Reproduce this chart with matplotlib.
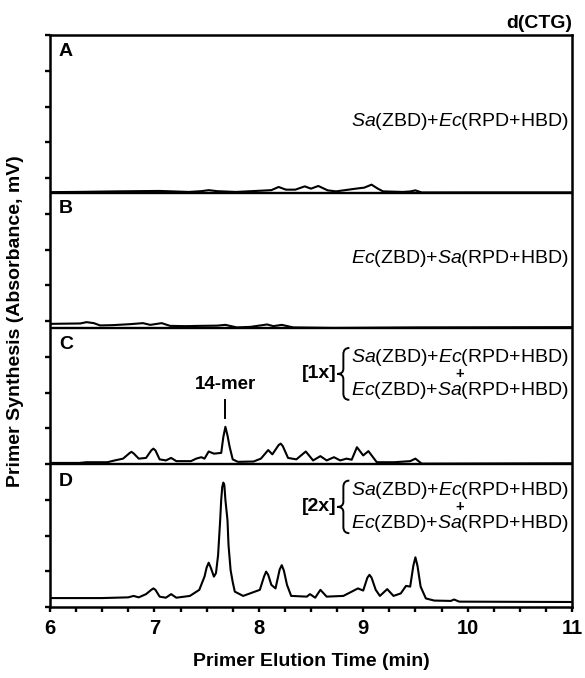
import matplotlib
matplotlib.use('Agg')
import matplotlib.pyplot as plt
from matplotlib.path import Path
from matplotlib.patches import PathPatch
from matplotlib.ticker import MultipleLocator, NullFormatter

plt.rcParams['font.family'] = ['Liberation Sans', 'DejaVu Sans']
plt.rcParams['mathtext.fontset'] = 'custom'
plt.rcParams['mathtext.rm'] = 'Liberation Sans'
plt.rcParams['mathtext.it'] = 'Liberation Sans:italic'

# ---------------- data ----------------
# elution time (min) and signal (in y-tick units, above each panel's baseline)
time_A = [6.0, 6.3, 6.63, 7.05, 7.33, 7.45, 7.52, 7.6, 7.78, 8.03, 8.12, 8.19, 8.26,
          8.35, 8.44, 8.5, 8.57, 8.66, 8.74, 8.93, 9.01, 9.08, 9.14, 9.19, 9.38,
          9.45, 9.5, 9.56, 10.0, 11.0]
sig_A = [0.014, 0.022, 0.036, 0.048, 0.020, 0.042, 0.070, 0.042, 0.020, 0.056, 0.070,
         0.159, 0.084, 0.084, 0.176, 0.112, 0.187, 0.064, 0.036, 0.112, 0.140, 0.224,
         0.112, 0.036, 0.020, 0.034, 0.064, 0.006, 0.008, 0.008]

time_B = [6.0, 6.29, 6.35, 6.42, 6.48, 6.6, 6.77, 6.89, 6.96, 7.07, 7.15, 7.3, 7.44,
          7.6, 7.68, 7.79, 7.92, 8.08, 8.14, 8.22, 8.33, 8.5, 8.72, 9.5, 11.0]
sig_B = [0.120, 0.131, 0.168, 0.140, 0.076, 0.084, 0.112, 0.140, 0.092, 0.140, 0.064,
         0.056, 0.064, 0.070, 0.092, 0.020, 0.036, 0.103, 0.056, 0.092, 0.020, 0.014,
         0.006, 0.020, 0.028]

time_C = [6.0, 6.28, 6.35, 6.55, 6.62, 6.70, 6.76, 6.78, 6.80, 6.85, 6.92, 6.97, 6.99,
          7.01, 7.05, 7.11, 7.16, 7.21, 7.35, 7.40, 7.45, 7.48, 7.52, 7.57, 7.64, 7.66,
          7.68, 7.70, 7.72, 7.75, 7.80, 7.95, 8.02, 8.09, 8.13, 8.19, 8.21, 8.23, 8.28,
          8.36, 8.45, 8.52, 8.59, 8.65, 8.72, 8.78, 8.84, 8.89, 8.94, 9.00, 9.05, 9.13,
          9.30, 9.45, 9.50, 9.56, 11.0]
sig_C = [0.03, 0.03, 0.05, 0.05, 0.10, 0.15, 0.30, 0.34, 0.30, 0.15, 0.17, 0.38, 0.43,
         0.38, 0.13, 0.10, 0.17, 0.08, 0.08, 0.15, 0.19, 0.15, 0.35, 0.29, 0.31, 0.75,
         1.04, 0.80, 0.49, 0.13, 0.06, 0.07, 0.15, 0.39, 0.27, 0.53, 0.57, 0.50, 0.17,
         0.13, 0.35, 0.10, 0.22, 0.10, 0.19, 0.10, 0.15, 0.12, 0.47, 0.24, 0.36, 0.05,
         0.05, 0.08, 0.15, 0.01, 0.02]

time_D = [6.0, 6.5, 6.75, 6.80, 6.85, 6.92, 6.97, 6.99, 7.01, 7.05, 7.11, 7.16, 7.21,
          7.34, 7.43, 7.48, 7.50, 7.52, 7.54, 7.57, 7.59, 7.61, 7.63, 7.64, 7.65, 7.66,
          7.67, 7.68, 7.70, 7.71, 7.73, 7.75, 7.77, 7.85, 8.01, 8.05, 8.07, 8.09, 8.12,
          8.16, 8.20, 8.22, 8.24, 8.27, 8.31, 8.46, 8.49, 8.54, 8.59, 8.65, 8.81, 8.95,
          9.00, 9.04, 9.06, 9.08, 9.12, 9.16, 9.23, 9.29, 9.36, 9.41, 9.45, 9.48, 9.50,
          9.52, 9.55, 9.60, 9.68, 9.84, 9.87, 9.92, 11.0]
sig_D = [0.25, 0.25, 0.27, 0.31, 0.27, 0.36, 0.48, 0.52, 0.48, 0.29, 0.26, 0.36, 0.26,
         0.31, 0.48, 0.85, 1.10, 1.24, 1.10, 0.85, 0.95, 1.45, 2.43, 3.00, 3.36, 3.48,
         3.41, 3.00, 2.43, 1.73, 1.03, 0.70, 0.43, 0.31, 0.48, 0.85, 0.99, 0.90, 0.62,
         0.52, 1.05, 1.17, 1.02, 0.62, 0.31, 0.29, 0.36, 0.26, 0.48, 0.29, 0.31, 0.52,
         0.46, 0.82, 0.90, 0.82, 0.48, 0.31, 0.50, 0.31, 0.38, 0.59, 0.57, 1.15, 1.39,
         1.15, 0.57, 0.24, 0.18, 0.17, 0.21, 0.15, 0.14]

panel_letters = ['A', 'B', 'C', 'D']
label_A = r'$\mathit{Sa}$(ZBD)+$\mathit{Ec}$(RPD+HBD)'
label_B = r'$\mathit{Ec}$(ZBD)+$\mathit{Sa}$(RPD+HBD)'
mix_prefix = ['[1x]', '[2x]']
x_ticks = [6, 7, 8, 9, 10, 11]
peak_label = '14-mer'
peak_time = 7.68

# ---------------- layout ----------------
W, H, DPI = 585, 678, 100
fig = plt.figure(figsize=(W / DPI, H / DPI), dpi=DPI)
L, R, T, B = 50, 572, 35, 607
ax = fig.add_axes([L / W, 1 - B / H, (R - L) / W, (B - T) / H])
ax.set_xlim(6, 11)
ax.set_ylim(0, 16)

base = {'A': 11.59, 'B': 7.80, 'C': 4.0, 'D': 0.0}
traces = {'A': (time_A, sig_A), 'B': (time_B, sig_B),
          'C': (time_C, sig_C), 'D': (time_D, sig_D)}

for k in ['A', 'B', 'C']:
    ax.axhline(base[k], color='black', lw=1.7, zorder=2)
for k, (t, s) in traces.items():
    ax.plot(t, [v + base[k] for v in s], color='black', lw=1.5,
            solid_joinstyle='round', zorder=3)

for sp in ax.spines.values():
    sp.set_linewidth(1.8)

ax.set_xticks(x_ticks)
ax.set_xticklabels([str(v) for v in x_ticks])
ax.xaxis.set_minor_locator(MultipleLocator(0.25))
ax.yaxis.set_major_locator(MultipleLocator(1))
ax.yaxis.set_major_formatter(NullFormatter())
ax.tick_params(axis='both', which='both', direction='out', width=1.7, length=3.5)
ax.tick_params(axis='x', which='major', pad=5, labelsize=14.5)
for lab in ax.get_xticklabels():
    lab.set_fontweight('bold')

ax.set_xlabel('Primer Elution Time (min)', fontsize=14, fontweight='bold')
ax.xaxis.set_label_coords(0.5, -0.08)
ax.set_ylabel('Primer Synthesis (Absorbance, mV)', fontsize=14, fontweight='bold')
ax.yaxis.set_label_coords(-0.05, 0.5)

fs = 14
letter_y = {'A': 15.55, 'B': 11.15, 'C': 7.33, 'D': 3.51}
for k in panel_letters:
    ax.text(6.085, letter_y[k], k, fontsize=fs, fontweight='bold', ha='left', va='center')

fig.text(R / W, 1 - 24 / H, 'd(CTG)', fontsize=fs, fontweight='bold', ha='right', va='center')

xr = 10.97
ax.text(xr, 13.57, label_A, fontsize=fs, ha='right', va='center')
ax.text(xr, 9.76, label_B, fontsize=fs, ha='right', va='center')

# peak marker
ax.text(peak_time, 6.21, peak_label, fontsize=fs - 0.5, fontweight='bold', ha='center', va='center')
ax.plot([peak_time, peak_time], [5.29, 5.79], color='black', lw=1.4)

fig.canvas.draw()
rend = fig.canvas.get_renderer()
inv = ax.transData.inverted()

def brace(xl, xr_, y0, y1):
    ym = 0.5 * (y0 + y1)
    xm = 0.5 * (xl + xr_)
    h = y1 - y0
    verts = [(xr_, y1), (xm, y1), (xm, y1 - 0.12 * h),
             (xm, ym + 0.1 * h),
             (xm, ym), (xl, ym),
             (xm, ym), (xm, ym - 0.1 * h),
             (xm, y0 + 0.12 * h),
             (xm, y0), (xr_, y0)]
    codes = [Path.MOVETO, Path.CURVE3, Path.CURVE3,
             Path.LINETO,
             Path.CURVE3, Path.CURVE3,
             Path.CURVE3, Path.CURVE3,
             Path.LINETO,
             Path.CURVE3, Path.CURVE3]
    p = Path([inv.transform(v) for v in verts], codes)
    ax.add_patch(PathPatch(p, fill=False, lw=1.4, color='black', zorder=4))

blocks = [(6.98, 6.52, 6.06, mix_prefix[0]), (3.27, 2.80, 2.33, mix_prefix[1])]
for y1, yp, y2, pre in blocks:
    t1 = ax.text(xr, y1, label_A, fontsize=fs, ha='right', va='center')
    t2 = ax.text(xr, y2, label_B, fontsize=fs, ha='right', va='center')
    b1 = t1.get_window_extent(rend)
    b2 = t2.get_window_extent(rend)
    left = min(b1.x0, b2.x0)
    cx = 0.5 * (b1.x0 + b1.x1)
    ax.text(inv.transform((cx, 0))[0], yp, '+', fontsize=10.5, fontweight='bold',
            ha='center', va='center')
    brace(left - 14, left - 2, b2.y0 + 1, b1.y1 - 1)
    ax.text(inv.transform((left - 15, 0))[0], yp, pre, fontsize=fs, fontweight='bold',
            ha='right', va='center')

fig.savefig('out.png', dpi=DPI)
